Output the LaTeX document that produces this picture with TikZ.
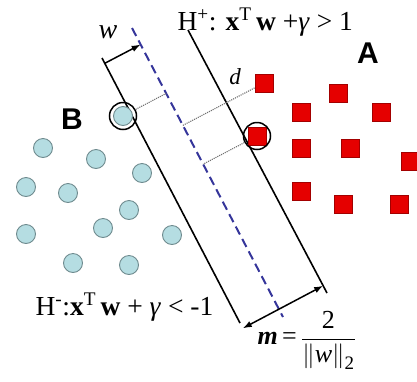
\documentclass[tikz,border=0pt]{standalone}
\usepackage{fontspec}
\setmainfont{Liberation Serif}
\newfontfamily\headfont{Liberation Sans}
\usetikzlibrary{arrows.meta, calc}
\definecolor{cdot}{HTML}{B5DDE2}
\definecolor{cdotline}{HTML}{6F8B8F}
\definecolor{cred}{HTML}{E50000}
\definecolor{credline}{HTML}{A30000}
\definecolor{cnavy}{HTML}{35359A}
\definecolor{cgrey}{HTML}{707070}
\tikzset{
  every picture/.style={line width=1.2pt},
  pt/.style={circle, fill=cdot, draw=cdotline, line width=0.9pt, minimum size=19pt, inner sep=0pt},
  sq/.style={rectangle, fill=cred, draw=credline, line width=0.6pt, minimum size=18pt, inner sep=0pt},
  ring/.style={circle, draw=black, line width=1.5pt, minimum size=27pt, inner sep=0pt},
  plane/.style={draw=black, line width=1.6pt},
  midplane/.style={draw=cnavy, line width=2pt, dash pattern=on 9pt off 5pt},
  gap/.style={draw=cgrey, line width=1.1pt, densely dotted},
  arrow/.style={-{Latex[length=9pt, width=6.5pt]}, line width=1.5pt},
  eq/.style={font=\fontsize{27.5}{30}\selectfont, anchor=base west, inner sep=0pt},
  cls/.style={font=\headfont\bfseries\fontsize{30}{32}\selectfont, inner sep=0pt},
  var/.style={font=\itshape\fontsize{28}{30}\selectfont, inner sep=0pt},
}

\begin{document}
\begin{tikzpicture}[x=1pt, y=-1pt]
  \useasboundingbox (0,0) rectangle (417,381);
  % the three planes
  \coordinate (ltop) at (102,58);  \coordinate (lbot) at (240,323);
  \coordinate (mtop) at (132,28);  \coordinate (mbot) at (283,317);
  \coordinate (rtop) at (188,30);  \coordinate (rbot) at (327,293);
  \draw[plane] (ltop) -- (lbot);
  \draw[plane] (rtop) -- (rbot);
  \draw[midplane] (mtop) -- (mbot);
  % class B
  \foreach \x/\y [count=\i] in {43/148, 96/159, 142/173, 26/187, 68/193, 129/210,
                               103/228, 26/234, 172/235, 73/263, 129/265}
    \node[pt] (b\i) at (\x,\y) {};
  \node[pt] (bsv) at (123,116) {};
  \node[ring] (ringb) at (bsv) {};
  % class A
  \foreach \x/\y [count=\i] in {264/83, 338/93, 301/112, 381/112, 301/148, 350/148,
                               410/161, 301/191, 343/204, 399/204}
    \node[sq] (a\i) at (\x,\y) {};
  \node[sq] (asv) at (257,136) {};
  \node[ring] (ringa) at (asv) {};
  % distances to the middle plane
  \coordinate (fb) at ($(mtop)!(bsv)!(mbot)$);
  \coordinate (fa) at ($(mtop)!(asv)!(mbot)$);
  \coordinate (fd) at ($(mtop)!(a1)!(mbot)$);
  \draw[gap] (ringb) -- (fb);
  \draw[gap] (ringa) -- (fa);
  \draw[gap] (fd) -- (a1);
  % w and the margin
  \coordinate (wa) at ($(ltop)!0.02!(lbot)$);
  \coordinate (wb) at ($(mtop)!(wa)!(mbot)$);
  \draw[arrow] (wa) -- (wb);
  \coordinate (ma) at ($(ltop)!1.02!(lbot)$);
  \coordinate (mb) at ($(rtop)!(ma)!(rbot)$);
  \draw[arrow, {Latex[length=9pt, width=6.5pt]}-{Latex[length=9pt, width=6.5pt]}] (ma) -- (mb);
  % labels
  \node[var] (wl) at (108,32) {w};
  \node[var, font=\itshape\fontsize{23}{25}\selectfont] (dl) at (235,77) {d};
  \node[cls] (la) at (368,53) {A};
  \node[cls] (lb) at (72,119) {B};
  \node[eq] (hp) at (177,30) {H\textsuperscript{+}: \textbf{x}\textsuperscript{T}\,\textbf{w} +\textit{γ} > 1};
  \node[eq] (hm) at (35,315) {H\textsuperscript{-}:\textbf{x}\textsuperscript{T}\,\textbf{w} + \textit{γ} < -1};
  \node[anchor=west, inner sep=0pt, font=\fontsize{26}{28}\selectfont] (ml) at (257,340)
    {\textbf{\textit{m}}\,=\,$\displaystyle\frac{\hbox{2}}{\left\|\hbox{\textit{w}}\right\|_{\hbox{\fontsize{19}{21}\selectfont 2}}}$};
\end{tikzpicture}
\end{document}
